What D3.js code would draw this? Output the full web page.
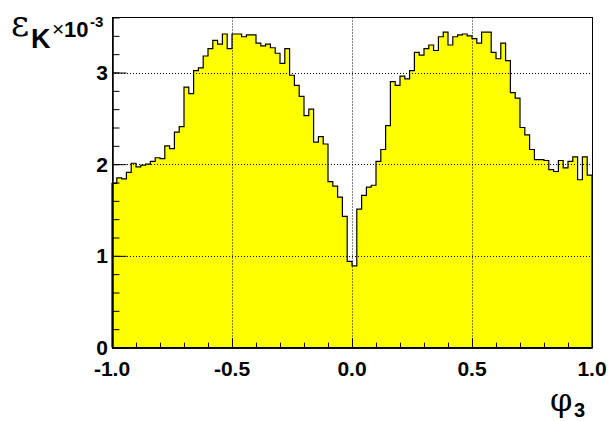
<!DOCTYPE html>
<html><head><meta charset="utf-8">
<script src="https://cdn.jsdelivr.net/npm/d3@7"></script>
<style>body{margin:0;background:#fff}svg{display:block}</style>
</head><body>
<svg id="c" width="609" height="421"></svg>
<script>
const xMin = -1.0, xMax = 1.0;
const values = [
1.79,1.85,1.84,1.91,2.01,1.97,1.99,2.00,2.03,2.07,
2.06,2.20,2.17,2.35,2.41,2.84,2.77,3.02,3.05,3.18,
3.26,3.35,3.31,3.42,3.26,3.42,3.42,3.39,3.41,3.41,
3.32,3.29,3.31,3.27,3.21,3.10,3.26,2.97,2.86,2.74,
2.53,2.60,2.24,2.30,2.22,1.81,1.76,1.64,1.43,0.94,
0.89,1.51,1.66,1.75,1.77,2.03,2.16,2.42,2.90,2.86,
2.96,2.93,3.02,3.22,3.19,3.26,3.30,3.24,3.39,3.44,
3.30,3.39,3.41,3.42,3.40,3.37,3.32,3.44,3.44,3.22,
3.15,3.32,3.13,2.78,2.72,2.40,2.32,2.16,2.05,2.05,
2.04,1.94,1.92,2.04,1.96,2.03,2.08,1.83,2.08,1.88];
const xTicks = [-1.0,-0.5,0.0,0.5,1.0];
const xTickLabels = ["-1.0","-0.5","0.0","0.5","1.0"];
const yTicks = [0,1,2,3];
const yTickLabels = ["0","1","2","3"];
const yMax = 3.6;

const L=112, R=592, T=17.5, B=347.5;
const svg = d3.select("#c");
const x = d3.scaleLinear().domain([xMin,xMax]).range([L,R]);
const y = d3.scaleLinear().domain([0,yMax]).range([B,T]);
const n = values.length, w = (xMax-xMin)/n;

let pts = [[x(xMin), y(0)]];
values.forEach((v,i)=>{ pts.push([x(xMin+i*w), y(v)]); pts.push([x(xMin+(i+1)*w), y(v)]); });
pts.push([x(xMax), y(0)]);
const line = d3.line();
svg.append("path").attr("d", line(pts)+"Z").attr("fill","#ffff00").attr("stroke","none");

const g = svg.append("g").attr("stroke","#000").attr("stroke-width",1).attr("stroke-dasharray","1,2");
xTicks.forEach(t=>{ const xx=Math.round(x(t))+0.5; g.append("line").attr("x1",xx).attr("x2",xx).attr("y1",T).attr("y2",B); });
yTicks.forEach(t=>{ const yy=Math.round(y(t))+0.5; g.append("line").attr("x1",L).attr("x2",R).attr("y1",yy).attr("y2",yy); });

svg.append("path").attr("d", line(pts)).attr("fill","none").attr("stroke","#000").attr("stroke-width",1.2);

svg.append("rect").attr("x",L+0.5).attr("y",T).attr("width",R-L).attr("height",B-T).attr("fill","none").attr("stroke","#000").attr("stroke-width",1);

const xAxisMajor = d3.axisTop(x).tickValues(xTicks).tickSize(9.5).tickFormat("").tickSizeOuter(0);
const xAxisMinor = d3.axisTop(x).tickValues(d3.range(-10,11).map(k=>k/10)).tickSize(4.8).tickFormat("").tickSizeOuter(0);
[xAxisMajor,xAxisMinor].forEach(a=>{
  const ga = svg.append("g").attr("transform",`translate(0,${B})`).call(a);
  ga.select(".domain").attr("stroke","#000").attr("stroke-width",1.5);
  ga.selectAll(".tick line").attr("stroke","#000").attr("stroke-width",1);
});
const yAxisMajor = d3.axisRight(y).tickValues(yTicks).tickSize(14).tickFormat("").tickSizeOuter(0);
const yAxisMinor = d3.axisRight(y).tickValues(d3.range(0,19).map(k=>k/5)).tickSize(7).tickFormat("").tickSizeOuter(0);
[yAxisMajor,yAxisMinor].forEach(a=>{
  const ga = svg.append("g").attr("transform",`translate(${L+0.5},0)`).call(a);
  ga.select(".domain").attr("stroke","#000").attr("stroke-width",1);
  ga.selectAll(".tick line").attr("stroke","#000").attr("stroke-width",1);
});

const lab = svg.append("g").attr("font-family","'Liberation Sans',Arial,sans-serif").attr("font-weight","bold").attr("font-size",21).attr("fill","#000");
xTicks.forEach((t,i)=>{ lab.append("text").attr("x",x(t)).attr("y",376).attr("text-anchor","middle").text(xTickLabels[i]); });
yTicks.forEach((t,i)=>{ lab.append("text").attr("x",108).attr("y",y(t)+7.5).attr("text-anchor","end").text(yTickLabels[i]); });

const sans = "'Liberation Sans',Arial,sans-serif";
const yt = svg.append("g").attr("fill","#000");
yt.append("text").attr("x",11).attr("y",36).attr("font-family","'DejaVu Serif',serif").attr("font-size",35).text("ε");
yt.append("text").attr("x",31).attr("y",48).attr("font-family",sans).attr("font-weight","bold").attr("font-size",27).text("K");
yt.append("text").attr("x",52).attr("y",36).attr("font-family",sans).attr("font-size",21).text("×");
yt.append("text").attr("x",64).attr("y",36.5).attr("font-family",sans).attr("font-weight","bold").attr("font-size",22).text("10");
yt.append("text").attr("x",90).attr("y",27).attr("font-family",sans).attr("font-weight","bold").attr("font-size",15).text("-3");

const xt = svg.append("g").attr("fill","#000");
xt.append("text").attr("x",550).attr("y",411).attr("font-family","'DejaVu Serif',serif").attr("font-size",32).text("φ");
xt.append("text").attr("x",574).attr("y",417).attr("font-family",sans).attr("font-weight","bold").attr("font-size",20).text("3");
</script>
</body></html>
